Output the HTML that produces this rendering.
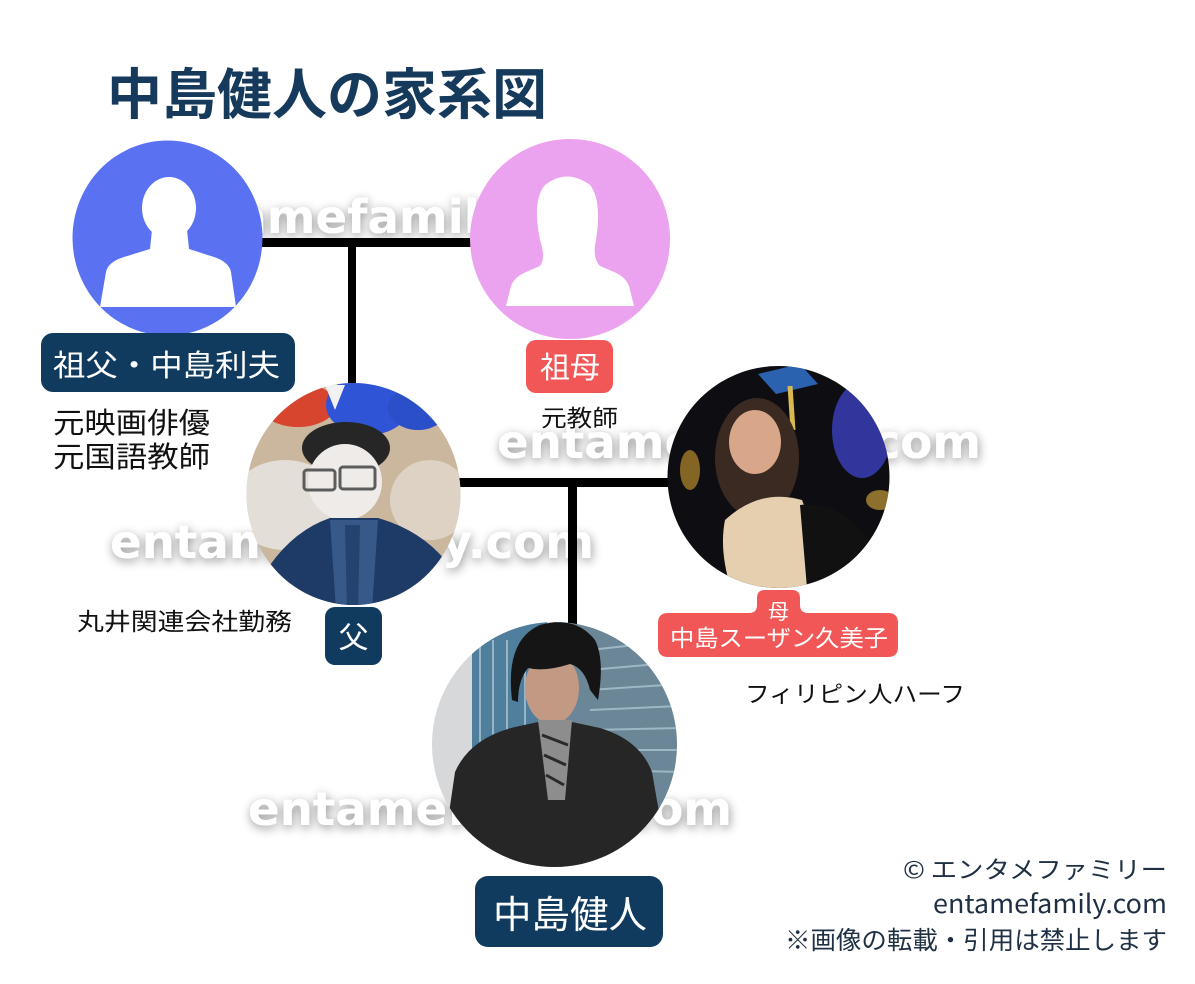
<!DOCTYPE html>
<html>
<head>
<meta charset="utf-8">
<style>
  html,body{margin:0;padding:0;background:#fff;}
  svg{display:block;}
  .jp{font-family:"Noto Sans CJK JP","Liberation Sans",sans-serif;}
  .wm{font-family:"DejaVu Sans","Liberation Sans",sans-serif;font-weight:700;font-size:46px;fill:#fff;}
</style>
</head>
<body>
<svg width="1195" height="984" viewBox="0 0 1195 984" xmlns="http://www.w3.org/2000/svg">
  <defs>
    <filter id="ws" x="-10%" y="-60%" width="120%" height="220%">
      <feDropShadow dx="1" dy="3" stdDeviation="5" flood-color="#000" flood-opacity="0.42"/>
    </filter>
    <clipPath id="cf"><ellipse cx="353.5" cy="494" rx="107" ry="111"/></clipPath>
    <clipPath id="cm"><circle cx="778.5" cy="477" r="111"/></clipPath>
    <clipPath id="ck"><circle cx="554.5" cy="744.5" r="122.5"/></clipPath>
  </defs>

  <rect x="0" y="0" width="1195" height="984" fill="#fff"/>

  <!-- Title -->
  <text class="jp" x="107" y="114" font-size="55" font-weight="700" fill="#153a5c" textLength="440" lengthAdjust="spacingAndGlyphs">中島健人の家系図</text>

  <!-- Watermarks -->
  <g filter="url(#ws)">
    <text class="wm" x="148" y="233" textLength="484" lengthAdjust="spacingAndGlyphs">entamefamily.com</text>
    <text class="wm" x="497" y="458" textLength="484" lengthAdjust="spacingAndGlyphs">entamefamily.com</text>
    <text class="wm" x="110" y="558" textLength="484" lengthAdjust="spacingAndGlyphs">entamefamily.com</text>
    <text class="wm" x="248" y="825" textLength="484" lengthAdjust="spacingAndGlyphs">entamefamily.com</text>
  </g>

  <!-- Connector lines -->
  <rect x="255" y="238" width="220" height="9" fill="#000"/>
  <rect x="348" y="238" width="8" height="150" fill="#000"/>
  <rect x="455" y="478" width="218" height="9" fill="#000"/>
  <rect x="568" y="478" width="9" height="150" fill="#000"/>

  <!-- Grandfather circle -->
  <ellipse cx="167.5" cy="238" rx="95" ry="97.5" fill="#5a72f2"/>
  <ellipse cx="169" cy="208" rx="27" ry="31" fill="#fff"/>
  <path d="M100 307 L106 272 Q108 262 124 257 L150 249 L152 230 L187 230 L189 249 L214 257 Q229 262 231 272 L236 307 Z" fill="#fff"/>

  <!-- Grandmother circle -->
  <circle cx="570" cy="239" r="100" fill="#eca3ef"/>
  <path d="M540 240 Q532 200 545 185 Q567 168 590 185 Q602 200 596 240 Q592 258 600 266 L614 272 Q628 278 630 290 L634 306 L506 306 L510 290 Q512 278 526 272 L540 266 Q546 258 540 240 Z" fill="#fff"/>

  <!-- Father photo -->
  <g clip-path="url(#cf)">
    <rect x="240" y="380" width="230" height="230" fill="#cbb79d"/>
    <ellipse cx="285" cy="505" rx="55" ry="45" fill="#e4ded8"/>
    <ellipse cx="430" cy="500" rx="40" ry="40" fill="#ddd2c4"/>
    <ellipse cx="298" cy="405" rx="38" ry="22" fill="#d8452e"/>
    <ellipse cx="368" cy="405" rx="42" ry="30" fill="#2f55d6"/>
    <ellipse cx="418" cy="408" rx="30" ry="22" fill="#2b4fc8"/>
    <path d="M325 385 L345 385 L335 410 Z" fill="#f1f1f1"/>
    <ellipse cx="346" cy="448" rx="44" ry="26" fill="#262626"/>
    <ellipse cx="345" cy="482" rx="37" ry="38" fill="#eeebe8"/>
    <rect x="304" y="470" width="31" height="20" rx="3" fill="none" stroke="#5c5c5c" stroke-width="3"/>
    <rect x="340" y="467" width="35" height="22" rx="3" fill="none" stroke="#5c5c5c" stroke-width="3"/>
    <path d="M255 610 L270 565 Q295 530 330 518 L378 518 Q420 530 445 560 L465 610 Z" fill="#1e3a66"/>
    <path d="M330 520 L378 520 L372 610 L336 610 Z" fill="#36598a"/>
    <path d="M345 525 L360 525 L358 610 L347 610 Z" fill="#24436f"/>
  </g>

  <!-- Mother photo -->
  <g clip-path="url(#cm)">
    <rect x="660" y="360" width="240" height="240" fill="#0d0d12"/>
    <ellipse cx="862" cy="430" rx="30" ry="48" fill="#3a3eb5" opacity="0.85"/>
    <ellipse cx="690" cy="470" rx="10" ry="20" fill="#b88b2c" opacity="0.7"/>
    <ellipse cx="880" cy="500" rx="14" ry="10" fill="#c59a3a" opacity="0.7"/>
    <path d="M758 374 L800 364 L818 384 L776 394 Z" fill="#2a62b0"/>
    <line x1="790" y1="386" x2="793" y2="430" stroke="#d8b850" stroke-width="5"/>
    <ellipse cx="757" cy="458" rx="42" ry="60" fill="#3a2a22"/>
    <ellipse cx="755" cy="442" rx="26" ry="32" fill="#d8a688"/>
    <path d="M725 520 Q760 488 802 500 Q818 540 805 600 L735 600 Q718 555 725 520 Z" fill="#e6cfae"/>
    <path d="M800 505 Q840 500 870 540 L880 600 L808 600 Z" fill="#111"/>
  </g>

  <!-- Kento photo -->
  <g clip-path="url(#ck)">
    <rect x="425" y="615" width="260" height="260" fill="#d6d8da"/>
    <rect x="472" y="615" width="75" height="260" fill="#4f7f9c"/>
    <rect x="560" y="615" width="125" height="260" fill="#6b8696"/>
    <g stroke="#a9c3d1" stroke-width="2" opacity="0.8">
      <line x1="480" y1="640" x2="480" y2="760"/><line x1="493" y1="640" x2="493" y2="760"/>
      <line x1="507" y1="640" x2="507" y2="760"/><line x1="525" y1="640" x2="525" y2="760"/>
      <line x1="590" y1="650" x2="680" y2="640"/><line x1="590" y1="670" x2="680" y2="662"/>
      <line x1="590" y1="690" x2="680" y2="684"/><line x1="590" y1="710" x2="680" y2="706"/>
      <line x1="590" y1="730" x2="680" y2="728"/><line x1="590" y1="750" x2="680" y2="750"/>
      <line x1="600" y1="770" x2="680" y2="772"/>
    </g>
    <ellipse cx="552" cy="688" rx="27" ry="36" fill="#c29a84"/>
    <path d="M512 700 Q505 640 540 625 Q575 615 595 640 Q605 660 598 700 L590 690 Q585 668 570 664 Q545 672 528 668 Q518 680 518 702 Z" fill="#151515"/>
    <path d="M440 875 L455 772 Q470 738 515 727 L538 722 L556 800 L572 722 L600 728 Q640 740 652 772 L670 875 Z" fill="#262626"/>
    <path d="M538 720 L572 720 L565 800 L548 800 Z" fill="#8d8d8d"/>
    <path d="M542 735 L568 745 M544 755 L566 765 M546 775 L564 785" stroke="#2a2a2a" stroke-width="3"/>
  </g>

  <!-- Labels -->
  <rect x="41" y="333" width="254" height="59" rx="12" fill="#103a5e"/>
  <text class="jp" x="53" y="376" font-size="30" fill="#fff" textLength="227" lengthAdjust="spacingAndGlyphs">祖父・中島利夫</text>

  <rect x="526" y="340" width="87" height="53" rx="10" fill="#f25757"/>
  <text class="jp" x="540" y="378" font-size="30" fill="#fff" textLength="60" lengthAdjust="spacingAndGlyphs">祖母</text>

  <text class="jp" x="53" y="433" font-size="29" fill="#111" textLength="157" lengthAdjust="spacingAndGlyphs">元映画俳優</text>
  <text class="jp" x="53" y="467" font-size="29" fill="#111" textLength="157" lengthAdjust="spacingAndGlyphs">元国語教師</text>

  <text class="jp" x="541" y="426" font-size="23" fill="#111" textLength="77" lengthAdjust="spacingAndGlyphs">元教師</text>

  <text class="jp" x="77" y="630" font-size="24" fill="#111" textLength="215" lengthAdjust="spacingAndGlyphs">丸井関連会社勤務</text>

  <rect x="325" y="607" width="57" height="58" rx="10" fill="#103a5e"/>
  <text class="jp" x="353.5" y="648" font-size="30" fill="#fff" text-anchor="middle">父</text>

  <path d="M668 613 L749 613 Q757 613 757 605 L757 598 Q757 590 765 590 L792 590 Q800 590 800 598 L800 605 Q800 613 808 613 L888 613 Q898 613 898 623 L898 647 Q898 657 888 657 L668 657 Q658 657 658 647 L658 623 Q658 613 668 613 Z" fill="#f25757"/>
  <text class="jp" x="778.5" y="619" font-size="21" fill="#fff" text-anchor="middle">母</text>
  <text class="jp" x="670" y="646" font-size="23" fill="#fff" textLength="218" lengthAdjust="spacingAndGlyphs">中島スーザン久美子</text>

  <text class="jp" x="745" y="702" font-size="23" fill="#111" textLength="220" lengthAdjust="spacingAndGlyphs">フィリピン人ハーフ</text>

  <rect x="475" y="876" width="188" height="71" rx="13" fill="#103a5e"/>
  <text class="jp" x="493" y="928" font-size="38" fill="#fff" textLength="154" lengthAdjust="spacingAndGlyphs">中島健人</text>

  <!-- Credits -->
  <text class="jp" x="903" y="878" font-size="24" fill="#1f3044" textLength="264" lengthAdjust="spacingAndGlyphs">© エンタメファミリー</text>
  <text class="jp" x="933" y="913" font-size="26" fill="#1f3044" textLength="234" lengthAdjust="spacingAndGlyphs">entamefamily.com</text>
  <text class="jp" x="785" y="949" font-size="25" fill="#1f3044" textLength="382" lengthAdjust="spacingAndGlyphs">※画像の転載・引用は禁止します</text>
</svg>
</body>
</html>
